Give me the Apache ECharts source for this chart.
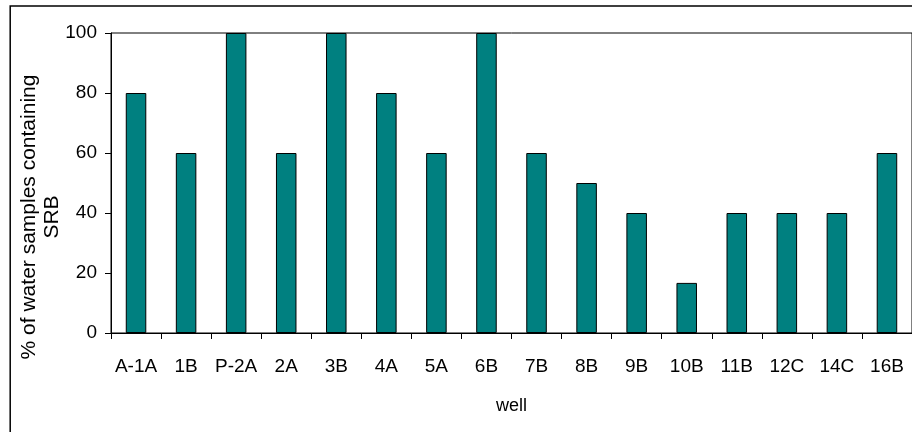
<!DOCTYPE html>
<html>
<head>
<meta charset="utf-8">
<script src="https://cdn.jsdelivr.net/npm/echarts@6/dist/echarts.min.js"></script>
<style>
  html, body { margin: 0; padding: 0; background: #fff; }
  #chart { width: 912px; height: 432px; }
</style>
</head>
<body>
<div id="chart"></div>
<script>
// Wells sampled, in plotting order
const wells = ['A-1A', '1B', 'P-2A', '2A', '3B', '4A', '5A', '6B', '7B', '8B', '9B', '10B', '11B', '12C', '14C', '16B'];
// Share of water samples in which SRB were detected (%)
const srbPercent = [80, 60, 100, 60, 100, 80, 60, 100, 60, 50, 40, 16.7, 40, 40, 40, 60];
// Value axis ticks
const yTicks = [0, 20, 40, 60, 80, 100];

const FONT = '"Liberation Sans", Arial, sans-serif';

const chart = echarts.init(document.getElementById('chart'), null, { renderer: 'canvas' });

chart.setOption({
  backgroundColor: '#ffffff',
  animation: false,
  grid: {
    left: 111,
    top: 33,
    right: -7,
    bottom: 99,
    show: true,
    borderColor: '#000',
    borderWidth: 1,
    backgroundColor: 'transparent'
  },
  xAxis: {
    type: 'category',
    data: wells,
    name: 'well',
    nameLocation: 'middle',
    nameGap: 64,
    nameTextStyle: { fontFamily: FONT, fontSize: 18, color: '#000' },
    axisLine: { lineStyle: { color: '#000', width: 1 } },
    axisTick: { show: true, length: 6, lineStyle: { color: '#000' } },
    axisLabel: { fontFamily: FONT, fontSize: 19, color: '#000', margin: 24, interval: 0 },
    splitLine: { show: false }
  },
  yAxis: {
    type: 'value',
    min: yTicks[0],
    max: yTicks[yTicks.length - 1],
    interval: yTicks[1] - yTicks[0],
    axisLine: { show: true, lineStyle: { color: '#000', width: 1 } },
    axisTick: { show: true, length: 6, lineStyle: { color: '#000' } },
    axisLabel: { fontFamily: FONT, fontSize: 19, color: '#000', margin: 14 },
    splitLine: { show: false }
  },
  series: [{
    type: 'bar',
    data: srbPercent,
    barWidth: '41%',
    itemStyle: { color: '#008080', borderColor: '#000', borderWidth: 1 }
  }],
  graphic: [
    {
      type: 'rect',
      silent: true,
      shape: { x: 10.2, y: 6, width: 1200, height: 1200 },
      style: { fill: 'none', stroke: '#000', lineWidth: 1.5 }
    },
    {
      type: 'text',
      silent: true,
      x: 41,
      y: 217,
      rotation: Math.PI / 2,
      style: {
        text: '% of water samples containing\nSRB',
        fontFamily: FONT,
        fontSize: 21,
        lineHeight: 23,
        fill: '#000',
        align: 'center',
        verticalAlign: 'middle'
      }
    }
  ]
});
</script>
</body>
</html>
